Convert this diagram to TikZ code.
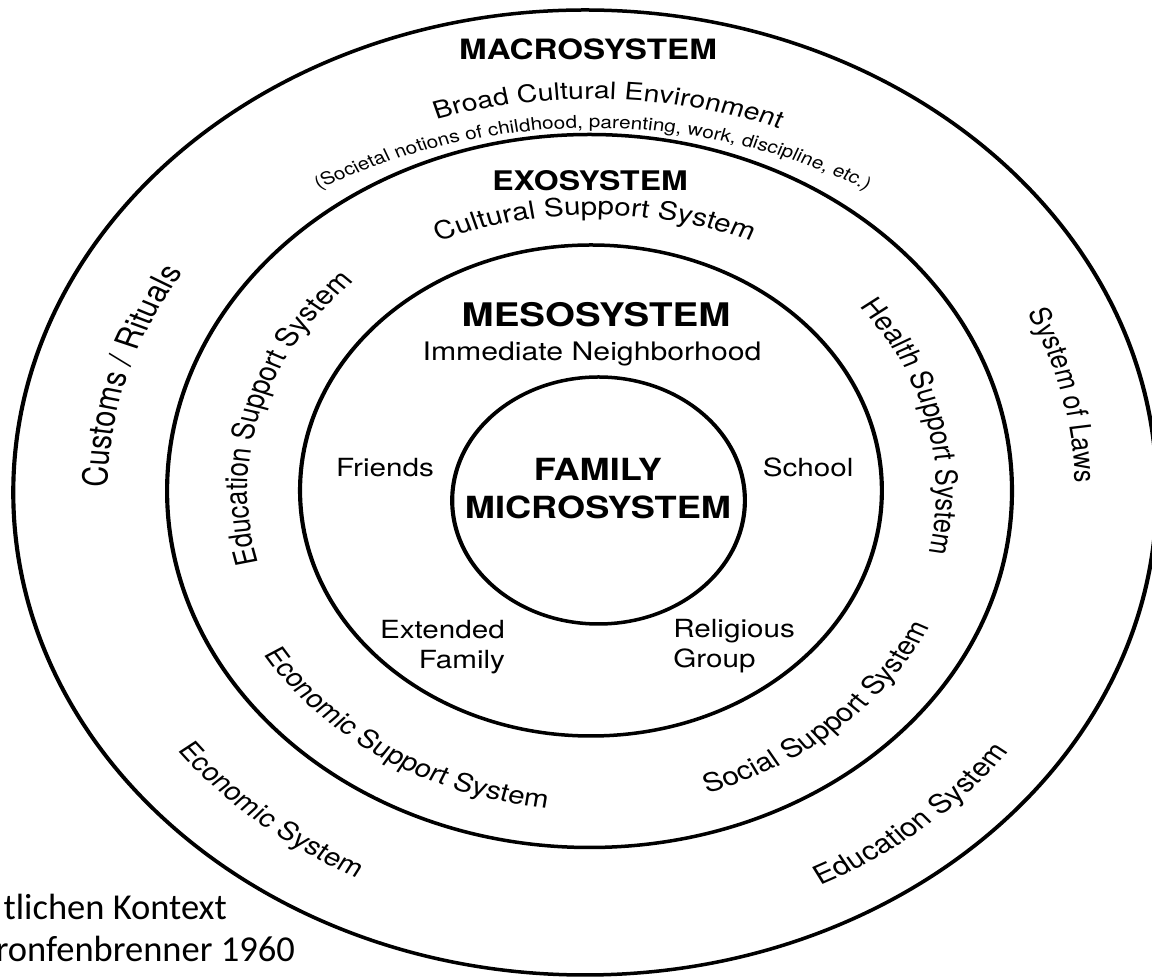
\documentclass[tikz,border=0pt]{standalone}
\usepackage{fontspec}
\setmainfont{TeX Gyre Heros}
\newfontfamily\capfont{Carlito}
\usetikzlibrary{calc,decorations.text}

\tikzset{
  ring/.style={line width=3.5pt},
  head/.style={font=\fontsize{#1}{#1}\selectfont\bfseries, inner sep=0pt},
  word/.style={font=\fontsize{#1}{#1}\selectfont, inner sep=0pt},
  capline/.style={font=\capfont\fontsize{36.5}{40}\selectfont, inner sep=0pt},
  arctext/.style 2 args={decorate, decoration={text along path, text align=center,
      text={|\fontsize{#2}{#2}\selectfont|#1}}},
}

\begin{document}
\begin{tikzpicture}[x=1pt,y=1pt]
\useasboundingbox (0,0) rectangle (1152,977);
\node[capline, anchor=base east] (kontext) at (227,57) {tlichen Kontext};
\node[capline, anchor=base east] (source) at (295,15) {ronfenbrenner 1960};

\begin{scope}[transform canvas={xscale=1.185}]
  \coordinate (macro) at (493.7,484.5);
  \coordinate (exo) at (497.5,486);
  \coordinate (meso) at (498.7,486.5);
  \coordinate (micro) at (505.1,476.5);
  \coordinate (c) at (497,486);
  \coordinate (tb) at (500,443);
  \coordinate (ts) at (500,389);
  \coordinate (tc) at (502,417);

  \draw[ring] (macro) circle[radius=482.5];
  \draw[ring] (exo) circle[radius=356.5];
  \draw[ring] (meso) circle[radius=245.5];
  \draw[ring] (micro) circle[radius=123.5];

  \node[head=28, anchor=base] (macrotitle) at (496.2,917) {MACROSYSTEM};
  \node[head=27, anchor=base] (exotitle) at (497.9,786) {EXOSYSTEM};
  \node[head=32.5, anchor=base] (mesotitle) at (503,650) {MESOSYSTEM};
  \node[word=25.5, anchor=base] (neighbour) at (499.6,616) {Immediate Neighborhood};
  \node[head=30.5, anchor=north, align=center, font=\fontsize{30.5}{38}\selectfont\bfseries]
    (family) at (504.6,519) {FAMILY\\MICROSYSTEM};
  \node[word=25, anchor=base] (friends) at (324.9,500) {Friends};
  \node[word=25, anchor=base] (school) at (681.9,500) {School};
  \node[word=25, anchor=north east, align=right, font=\fontsize{25}{30}\selectfont]
    (extended) at (426.2,357) {Extended\\Family};
  \node[word=25, anchor=north west, align=left, font=\fontsize{25}{30}\selectfont]
    (religious) at (568,358) {Religious\\Group};

  \path[arctext={Broad Cultural Environment}{24}]
    ($(tb)+(123.2:435)$) arc[start angle=123.2, end angle=53.2, radius=435];
  \path[arctext={(Societal notions of childhood, parenting, work, discipline, etc.)}{17.5}]
    ($(ts)+(135:460)$) arc[start angle=135, end angle=45, radius=460];
  \path[arctext={Cultural Support System}{25}]
    ($(tc)+(130:345)$) arc[start angle=130, end angle=50, radius=345];

  \path[arctext={Customs / Rituals}{29}]
    ($(c)+(193.5:406)$) arc[start angle=193.5, end angle=133.5, radius=406];
  \path[arctext={Education Support System}{26}]
    ($(c)+(204:288)$) arc[start angle=204, end angle=124, radius=288];
  \path[arctext={Health Support System}{25.5}]
    ($(c)+(53.3:293.5)$) arc[start angle=53.3, end angle=-26.7, radius=293.5];
  \path[arctext={System of Laws}{25}]
    ($(c)+(38.4:410.5)$) arc[start angle=38.4, end angle=-11.6, radius=410.5];
  \path[arctext={Economic Support System}{25}]
    ($(c)+(197.2:319)$) arc[start angle=197.2, end angle=277.2, radius=319];
  \path[arctext={Economic System}{25}]
    ($(c)+(205:433.5)$) arc[start angle=205, end angle=255, radius=433.5];
  \path[arctext={Social Support System}{25.5}]
    ($(c)+(271.5:318)$) arc[start angle=271.5, end angle=351.5, radius=318];
  \path[arctext={Education System}{26}]
    ($(c)+(285:440)$) arc[start angle=285, end angle=335, radius=440];
\end{scope}
\end{tikzpicture}
\end{document}
